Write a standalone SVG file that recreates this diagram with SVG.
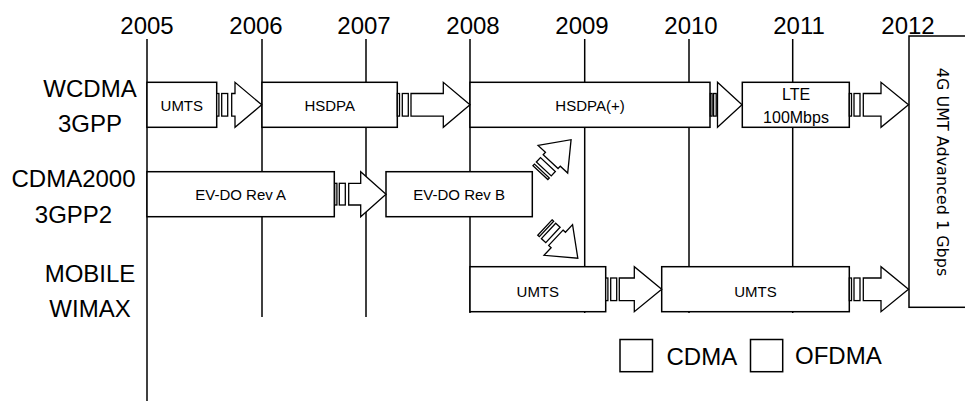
<svg xmlns="http://www.w3.org/2000/svg" width="965" height="401" viewBox="0 0 965 401">
<style>
  .bg{fill:#fff}
  .grid line{stroke:#000;stroke-width:1.5}
  .box{fill:#fff;stroke:#000;stroke-width:1.5}
  .arr rect,.arr polygon{fill:#fff;stroke:#000;stroke-width:1.3;stroke-linejoin:miter}
  .year{font-family:"Liberation Sans",Arial,sans-serif;font-size:24px;fill:#000;text-anchor:middle}
  .row{font-family:"Liberation Sans",Arial,sans-serif;font-size:24px;fill:#000;text-anchor:middle}
  .lbl{font-family:"Liberation Sans",Arial,sans-serif;font-size:15px;fill:#000;text-anchor:middle}
  .lbl2{font-family:"Liberation Sans",Arial,sans-serif;font-size:16px;fill:#000;text-anchor:middle}
  .big{font-family:"DejaVu Sans",Verdana,sans-serif;font-size:16px;fill:#000;text-anchor:middle}
  .leg{font-family:"Liberation Sans",Arial,sans-serif;font-size:24px;fill:#000}
</style>
<defs>
  <g id="darrow" fill="#fff" stroke="#000" stroke-width="1.3">
    <rect x="0" y="-11.3" width="2.2" height="22.6" vector-effect="non-scaling-stroke"/>
    <rect x="5" y="-11.3" width="6" height="22.6" vector-effect="non-scaling-stroke"/>
    <polygon points="15,-11.3 18.3,-11.3 18.3,-22.5 45,0 18.3,22.5 18.3,11.3 15,11.3" vector-effect="non-scaling-stroke"/>
  </g>
</defs>
<rect class="bg" x="0" y="0" width="965" height="401"/>

<g id="years">
  <text class="year" x="147" y="34">2005</text>
  <text class="year" x="256" y="34">2006</text>
  <text class="year" x="364" y="34">2007</text>
  <text class="year" x="473" y="34">2008</text>
  <text class="year" x="582" y="34">2009</text>
  <text class="year" x="691" y="34">2010</text>
  <text class="year" x="799" y="34">2011</text>
  <text class="year" x="908" y="34">2012</text>
</g>

<g id="row-labels">
  <text class="row" x="90" y="96.5">WCDMA</text>
  <text class="row" x="90" y="131.5">3GPP</text>
  <text class="row" x="73.5" y="186.5">CDMA2000</text>
  <text class="row" x="73.5" y="222.5">3GPP2</text>
  <text class="row" x="90" y="281.5">MOBILE</text>
  <text class="row" x="90" y="317">WIMAX</text>
</g>

<g class="grid" id="timeline">
  <line x1="147" y1="39" x2="147" y2="401"/>
  <line x1="262" y1="39" x2="262" y2="317"/>
  <line x1="366" y1="39" x2="366" y2="317"/>
  <line x1="470" y1="39" x2="470" y2="313"/>
  <line x1="584.7" y1="39" x2="584.7" y2="313"/>
  <line x1="689" y1="39" x2="689" y2="313"/>
  <line x1="792.7" y1="39" x2="792.7" y2="313"/>
</g>

<g id="node-umts1"><rect class="box" x="147" y="82.3" width="69.7" height="45"/><text class="lbl" x="181.8" y="111">UMTS</text></g>
<g id="node-hsdpa"><rect class="box" x="262" y="82.3" width="135.3" height="45"/><text class="lbl" x="329.7" y="111">HSDPA</text></g>
<g id="node-hsdpaplus"><rect class="box" x="470" y="82.3" width="240" height="45"/><text class="lbl" x="590" y="111">HSDPA(+)</text></g>
<g id="node-lte"><rect class="box" x="742.3" y="82.3" width="107" height="45"/><text class="lbl2" x="796" y="100">LTE</text><text class="lbl2" x="796" y="123">100Mbps</text></g>
<g id="node-4g"><rect class="box" x="909" y="36" width="70" height="271.3"/><text class="big" transform="translate(936.5,172) rotate(90)">4G UMT Advanced 1 Gbps</text></g>
<g id="node-evdoa"><rect class="box" x="147" y="171.7" width="187.3" height="45"/><text class="lbl" x="240.7" y="200">EV-DO Rev A</text></g>
<g id="node-evdob"><rect class="box" x="386" y="171.7" width="146.3" height="45"/><text class="lbl" x="459.2" y="200">EV-DO Rev B</text></g>
<g id="node-umts2"><rect class="box" x="470" y="266.7" width="135.7" height="45"/><text class="lbl" x="537.8" y="296.5">UMTS</text></g>
<g id="node-umts3"><rect class="box" x="661.7" y="266.7" width="187.6" height="45"/><text class="lbl" x="755.5" y="296.5">UMTS</text></g>

<g id="connectors" class="arr">
  <g id="a1">
    <rect x="216.7" y="93.5" width="2.2" height="22.6"/><rect x="221.7" y="93.5" width="6" height="22.6"/>
    <polygon points="231.7,93.5 235,93.5 235,82.3 261.7,104.8 235,127.3 235,116.1 231.7,116.1"/>
  </g>
  <g id="a2">
    <rect x="397.3" y="93.5" width="2.2" height="22.6"/><rect x="402.3" y="93.5" width="6" height="22.6"/>
    <polygon points="411,93.5 443.3,93.5 443.3,82.3 470,104.8 443.3,127.3 443.3,116.1 411,116.1"/>
  </g>
  <g id="a3">
    <rect x="710.3" y="93.5" width="1.8" height="22.6"/><rect x="713.6" y="93.5" width="2.6" height="22.6"/>
    <polygon points="717.5,93.5 717.5,82.3 742,104.8 717.5,127.3 717.5,116.1"/>
  </g>
  <g id="a4">
    <rect x="849.3" y="93.5" width="2.2" height="22.6"/><rect x="854" y="93.5" width="6" height="22.6"/>
    <polygon points="863.3,93.5 881,93.5 881,82.3 908.5,104.8 881,127.3 881,116.1 863.3,116.1"/>
  </g>
  <g id="a5">
    <rect x="334.7" y="183.3" width="2.2" height="21.7"/><rect x="339.3" y="183.3" width="6" height="21.7"/>
    <polygon points="348.7,183.3 360.7,183.3 360.7,171.7 386,194.2 360.7,216.7 360.7,205 348.7,205"/>
  </g>
  <g id="a6">
    <rect x="605.7" y="278" width="2.2" height="22.6"/><rect x="610.7" y="278" width="6" height="22.6"/>
    <polygon points="619.3,278 634.3,278 634.3,266.7 661.7,289.2 634.3,311.7 634.3,300.6 619.3,300.6"/>
  </g>
  <g id="a7">
    <rect x="849.3" y="278" width="2.2" height="22.6"/><rect x="854" y="278" width="6" height="22.6"/>
    <polygon points="863.3,278 881,278 881,266.7 908.5,289.2 881,311.7 881,300.6 863.3,300.6"/>
  </g>
  <g id="a8"><use href="#darrow" transform="translate(540.4,172.6) rotate(-47) scale(1,0.9)"/></g>
  <g id="a9"><use href="#darrow" transform="translate(544.9,227.5) rotate(43) scale(1,0.93)"/></g>
</g>

<g id="legend">
  <rect class="box" x="620" y="339.5" width="32.5" height="32.2"/>
  <text class="leg" x="666.5" y="365">CDMA</text>
  <rect class="box" x="750.5" y="339.5" width="32.2" height="32.2"/>
  <text class="leg" x="795" y="364">OFDMA</text>
</g>
</svg>
